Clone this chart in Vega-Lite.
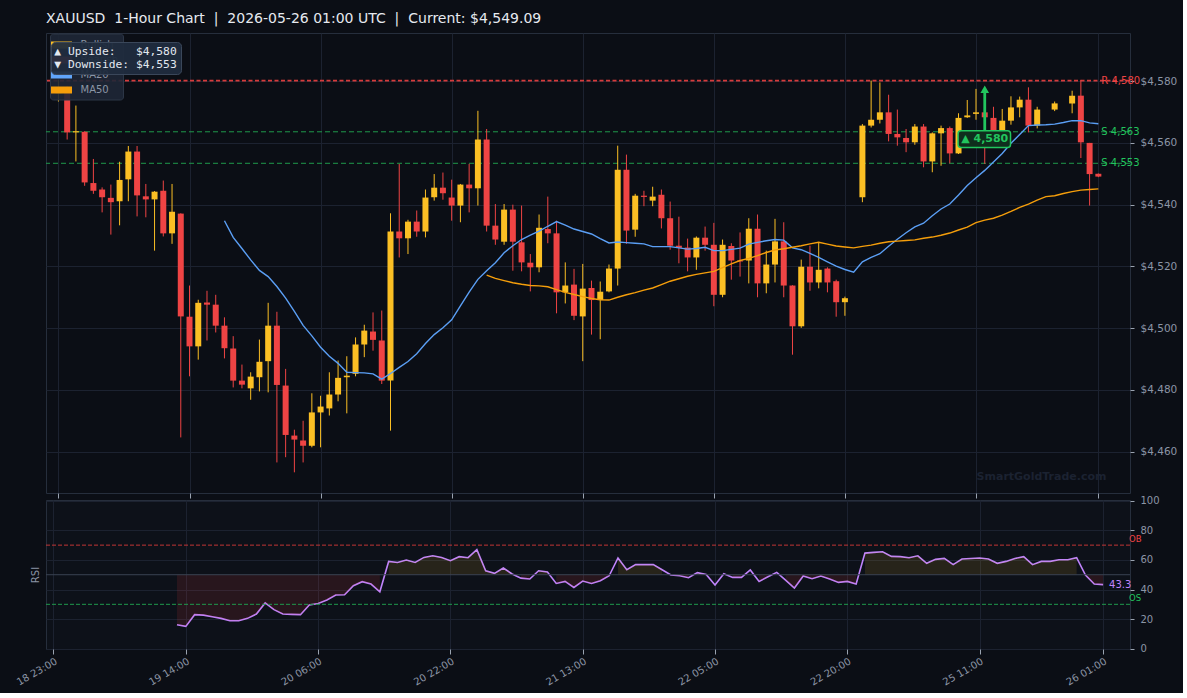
{
  "$schema": "https://vega.github.io/schema/vega-lite/v6.json",
  "background": "#0b0e15",
  "padding": {"left": 14, "top": 11, "right": 5, "bottom": 5},
  "title": {"text": "XAUUSD\u00a0 1-Hour Chart\u00a0 |\u00a0 2026-05-26 01:00 UTC\u00a0 |\u00a0 Current: $4,549.09", "anchor": "start", "frame": "group", "color": "#e6e9ef", "fontSize": 14, "font": "DejaVu Sans", "fontWeight": "normal", "offset": 7},
  "config": {
    "view": {"fill": "#0d1119", "stroke": "#262e3c"},
    "font": "DejaVu Sans",
    "axis": {"domain": false, "grid": true, "gridColor": "#1c2230", "gridWidth": 1, "tickColor": "#9aa3b0", "labelColor": "#8b95a5", "labelFont": "DejaVu Sans", "titleColor": "#8b95a5", "titleFont": "DejaVu Sans", "titleFontWeight": "normal", "labelOverlap": false}
  },
  "spacing": 7,
  "bounds": "flush",
  "datasets": {
    "bars": [
      {"i":0,"o":4576.0,"h":4580.5,"l":4573.4,"c":4577.5},
      {"i":1,"o":4576.5,"h":4578.5,"l":4561.1,"c":4563.4},
      {"i":2,"o":4563.4,"h":4572.1,"l":4554.0,"c":4563.8},
      {"i":3,"o":4563.6,"h":4563.8,"l":4546.1,"c":4547.2},
      {"i":4,"o":4547.0,"h":4554.8,"l":4543.5,"c":4544.5},
      {"i":5,"o":4544.9,"h":4545.6,"l":4537.5,"c":4542.4},
      {"i":6,"o":4542.2,"h":4546.5,"l":4530.3,"c":4540.8},
      {"i":7,"o":4541.1,"h":4553.9,"l":4533.3,"c":4548.0},
      {"i":8,"o":4548.2,"h":4559.0,"l":4541.1,"c":4557.2},
      {"i":9,"o":4557.2,"h":4559.0,"l":4536.2,"c":4543.0},
      {"i":10,"o":4542.7,"h":4546.7,"l":4535.9,"c":4541.7},
      {"i":11,"o":4541.7,"h":4544.4,"l":4525.1,"c":4544.2},
      {"i":12,"o":4544.5,"h":4547.8,"l":4529.7,"c":4530.7},
      {"i":13,"o":4530.7,"h":4546.7,"l":4527.3,"c":4537.7},
      {"i":14,"o":4537.1,"h":4537.2,"l":4464.6,"c":4503.8,"rsi":16.2},
      {"i":15,"o":4503.7,"h":4513.8,"l":4484.4,"c":4494.1,"rsi":15.1},
      {"i":16,"o":4494.1,"h":4509.2,"l":4489.8,"c":4508.2,"rsi":23.0},
      {"i":17,"o":4508.3,"h":4512.1,"l":4496.0,"c":4507.6,"rsi":22.7},
      {"i":18,"o":4507.6,"h":4510.8,"l":4498.6,"c":4500.8,"rsi":21.6},
      {"i":19,"o":4500.8,"h":4503.5,"l":4490.2,"c":4493.5,"ma20":4534.8,"rsi":20.5},
      {"i":20,"o":4493.4,"h":4497.4,"l":4480.8,"c":4483.0,"ma20":4529.4,"rsi":18.9},
      {"i":21,"o":4483.0,"h":4488.2,"l":4480.5,"c":4481.7,"ma20":4525.8,"rsi":18.9},
      {"i":22,"o":4480.5,"h":4485.7,"l":4476.8,"c":4484.3,"ma20":4522.1,"rsi":20.5},
      {"i":23,"o":4484.1,"h":4496.3,"l":4479.5,"c":4489.1,"ma20":4518.7,"rsi":23.4},
      {"i":24,"o":4489.3,"h":4508.2,"l":4479.2,"c":4500.8,"ma20":4516.7,"rsi":30.9},
      {"i":25,"o":4500.8,"h":4505.3,"l":4456.5,"c":4481.6,"ma20":4513.5,"rsi":26.4},
      {"i":26,"o":4481.4,"h":4486.8,"l":4458.2,"c":4465.4,"ma20":4509.7,"rsi":23.4},
      {"i":27,"o":4465.2,"h":4467.1,"l":4453.3,"c":4463.9,"ma20":4505.4,"rsi":23.2},
      {"i":28,"o":4463.6,"h":4470.0,"l":4456.5,"c":4461.9,"ma20":4500.9,"rsi":23.0},
      {"i":29,"o":4461.9,"h":4478.9,"l":4461.4,"c":4472.7,"ma20":4497.5,"rsi":29.5},
      {"i":30,"o":4472.7,"h":4478.1,"l":4461.4,"c":4474.6,"ma20":4493.8,"rsi":30.6},
      {"i":31,"o":4474.0,"h":4485.7,"l":4471.7,"c":4478.5,"ma20":4490.9,"rsi":32.9},
      {"i":32,"o":4478.5,"h":4489.5,"l":4476.3,"c":4483.9,"ma20":4488.6,"rsi":36.3},
      {"i":33,"o":4484.1,"h":4490.9,"l":4472.4,"c":4484.6,"ma20":4485.7,"rsi":36.5},
      {"i":34,"o":4485.2,"h":4497.0,"l":4484.4,"c":4494.7,"ma20":4485.6,"rsi":42.6},
      {"i":35,"o":4494.7,"h":4501.1,"l":4490.6,"c":4499.2,"ma20":4485.5,"rsi":45.3},
      {"i":36,"o":4498.9,"h":4505.1,"l":4492.7,"c":4496.2,"ma20":4485.2,"rsi":43.7},
      {"i":37,"o":4496.0,"h":4505.7,"l":4481.9,"c":4483.0,"ma20":4483.5,"rsi":38.5},
      {"i":38,"o":4483.0,"h":4537.2,"l":4466.8,"c":4531.3,"ma20":4485.3,"rsi":59.0},
      {"i":39,"o":4531.3,"h":4553.2,"l":4522.9,"c":4529.1,"ma20":4487.3,"rsi":58.3},
      {"i":40,"o":4529.1,"h":4535.1,"l":4524.0,"c":4534.5,"ma20":4489.2,"rsi":59.9},
      {"i":41,"o":4534.5,"h":4538.1,"l":4529.6,"c":4531.3,"ma20":4491.7,"rsi":58.3},
      {"i":42,"o":4531.3,"h":4544.9,"l":4529.4,"c":4542.3,"ma20":4495.0,"rsi":61.7},
      {"i":43,"o":4542.4,"h":4549.9,"l":4541.3,"c":4545.5,"ma20":4497.9,"rsi":62.8},
      {"i":44,"o":4545.5,"h":4550.4,"l":4541.6,"c":4543.7,"ma20":4500.1,"rsi":61.7},
      {"i":45,"o":4542.3,"h":4548.1,"l":4534.8,"c":4539.7,"ma20":4502.7,"rsi":59.5},
      {"i":46,"o":4539.7,"h":4546.7,"l":4534.3,"c":4546.5,"ma20":4507.2,"rsi":62.2},
      {"i":47,"o":4546.5,"h":4553.2,"l":4537.5,"c":4545.3,"ma20":4511.7,"rsi":61.5},
      {"i":48,"o":4545.3,"h":4570.4,"l":4539.7,"c":4561.1,"ma20":4515.8,"rsi":66.9},
      {"i":49,"o":4561.1,"h":4564.5,"l":4531.3,"c":4533.2,"ma20":4518.6,"ma50":4517.2,"rsi":52.7},
      {"i":50,"o":4533.2,"h":4540.2,"l":4527.0,"c":4528.7,"ma20":4521.2,"ma50":4516.1,"rsi":50.9},
      {"i":51,"o":4528.0,"h":4540.2,"l":4527.0,"c":4538.4,"ma20":4524.4,"ma50":4515.4,"rsi":54.5},
      {"i":52,"o":4538.4,"h":4540.0,"l":4518.6,"c":4528.0,"ma20":4526.7,"ma50":4514.7,"rsi":50.5},
      {"i":53,"o":4527.8,"h":4539.7,"l":4518.4,"c":4521.3,"ma20":4528.7,"ma50":4514.2,"rsi":47.7},
      {"i":54,"o":4521.2,"h":4524.0,"l":4511.9,"c":4519.7,"ma20":4530.1,"ma50":4513.8,"rsi":47.1},
      {"i":55,"o":4519.7,"h":4536.8,"l":4518.1,"c":4532.5,"ma20":4531.4,"ma50":4513.7,"rsi":52.7},
      {"i":56,"o":4532.1,"h":4542.6,"l":4527.5,"c":4530.7,"ma20":4533.0,"ma50":4513.4,"rsi":51.8},
      {"i":57,"o":4530.7,"h":4534.8,"l":4504.8,"c":4511.6,"ma20":4534.5,"ma50":4512.5,"rsi":44.1},
      {"i":58,"o":4511.6,"h":4521.3,"l":4508.0,"c":4513.8,"ma20":4533.4,"ma50":4511.6,"rsi":45.5},
      {"i":59,"o":4514.1,"h":4519.2,"l":4502.6,"c":4504.0,"ma20":4532.1,"ma50":4510.9,"rsi":41.4},
      {"i":60,"o":4503.8,"h":4520.8,"l":4489.3,"c":4512.8,"ma20":4531.3,"ma50":4510.2,"rsi":45.7},
      {"i":61,"o":4513.0,"h":4515.4,"l":4497.9,"c":4509.1,"ma20":4530.5,"ma50":4509.6,"rsi":44.1},
      {"i":62,"o":4509.1,"h":4515.1,"l":4496.4,"c":4511.8,"ma20":4529.0,"ma50":4509.2,"rsi":45.9},
      {"i":63,"o":4511.9,"h":4520.6,"l":4511.6,"c":4519.3,"ma20":4527.6,"ma50":4509.1,"rsi":49.3},
      {"i":64,"o":4519.3,"h":4559.1,"l":4513.8,"c":4551.3,"ma20":4527.9,"ma50":4510.0,"rsi":61.3},
      {"i":65,"o":4551.3,"h":4556.2,"l":4527.3,"c":4531.6,"ma20":4527.7,"ma50":4510.8,"rsi":53.4},
      {"i":66,"o":4531.9,"h":4543.5,"l":4529.6,"c":4542.9,"ma20":4527.5,"ma50":4511.5,"rsi":56.8},
      {"i":67,"o":4542.9,"h":4544.5,"l":4539.5,"c":4542.5,"ma20":4527.3,"ma50":4512.3,"rsi":56.8},
      {"i":68,"o":4541.3,"h":4545.8,"l":4539.5,"c":4542.6,"ma20":4526.4,"ma50":4513.0,"rsi":56.8},
      {"i":69,"o":4543.2,"h":4544.9,"l":4532.3,"c":4535.6,"ma20":4526.4,"ma50":4514.1,"rsi":53.4},
      {"i":70,"o":4535.6,"h":4541.0,"l":4525.4,"c":4526.7,"ma20":4526.4,"ma50":4515.2,"rsi":49.8},
      {"i":71,"o":4526.7,"h":4536.1,"l":4521.0,"c":4526.0,"ma20":4526.0,"ma50":4516.0,"rsi":49.3},
      {"i":72,"o":4526.1,"h":4529.0,"l":4518.4,"c":4522.9,"ma20":4525.6,"ma50":4516.8,"rsi":48.0},
      {"i":73,"o":4522.9,"h":4529.7,"l":4518.9,"c":4529.3,"ma20":4525.8,"ma50":4517.4,"rsi":51.4},
      {"i":74,"o":4529.3,"h":4532.9,"l":4525.1,"c":4527.0,"ma20":4526.2,"ma50":4517.9,"rsi":50.2},
      {"i":75,"o":4527.0,"h":4534.1,"l":4507.1,"c":4510.8,"ma20":4525.1,"ma50":4518.4,"rsi":43.0},
      {"i":76,"o":4510.8,"h":4528.7,"l":4510.0,"c":4527.0,"ma20":4525.1,"ma50":4519.6,"rsi":50.7},
      {"i":77,"o":4526.6,"h":4527.5,"l":4515.7,"c":4521.9,"ma20":4525.5,"ma50":4520.8,"rsi":48.2},
      {"i":78,"o":4521.9,"h":4531.0,"l":4516.7,"c":4521.6,"ma20":4525.9,"ma50":4521.9,"rsi":48.2},
      {"i":79,"o":4521.9,"h":4535.6,"l":4514.5,"c":4532.2,"ma20":4527.2,"ma50":4522.6,"rsi":53.2},
      {"i":80,"o":4532.2,"h":4536.8,"l":4510.0,"c":4514.5,"ma20":4527.8,"ma50":4523.5,"rsi":45.5},
      {"i":81,"o":4514.5,"h":4525.1,"l":4511.3,"c":4520.6,"ma20":4528.3,"ma50":4524.5,"rsi":48.6},
      {"i":82,"o":4520.6,"h":4535.4,"l":4514.8,"c":4528.1,"ma20":4528.7,"ma50":4525.3,"rsi":51.6},
      {"i":83,"o":4528.1,"h":4534.3,"l":4510.0,"c":4513.8,"ma20":4528.5,"ma50":4525.7,"rsi":46.4},
      {"i":84,"o":4513.8,"h":4513.9,"l":4491.4,"c":4500.6,"ma20":4526.0,"ma50":4526.2,"rsi":41.0},
      {"i":85,"o":4500.6,"h":4522.2,"l":4500.1,"c":4519.9,"ma20":4525.4,"ma50":4526.7,"rsi":49.1},
      {"i":86,"o":4519.9,"h":4526.7,"l":4512.1,"c":4514.8,"ma20":4524.2,"ma50":4527.3,"rsi":47.3},
      {"i":87,"o":4514.8,"h":4527.8,"l":4512.9,"c":4518.9,"ma20":4522.9,"ma50":4527.8,"rsi":49.1},
      {"i":88,"o":4519.3,"h":4519.7,"l":4511.6,"c":4514.8,"ma20":4521.5,"ma50":4527.2,"rsi":47.1},
      {"i":89,"o":4515.2,"h":4515.7,"l":4503.7,"c":4508.4,"ma20":4520.1,"ma50":4526.6,"rsi":44.8},
      {"i":90,"o":4508.4,"h":4510.2,"l":4504.0,"c":4509.7,"ma20":4519.0,"ma50":4526.3,"rsi":45.5},
      {"i":91,"ma20":4518.1,"ma50":4526.0,"rsi":43.7},
      {"i":92,"o":4542.4,"h":4566.1,"l":4540.8,"c":4565.6,"ma20":4521.5,"ma50":4526.5,"rsi":64.6},
      {"i":93,"o":4565.6,"h":4580.2,"l":4565.0,"c":4567.5,"ma20":4522.9,"ma50":4526.9,"rsi":65.1},
      {"i":94,"o":4567.5,"h":4579.6,"l":4566.3,"c":4569.9,"ma20":4524.1,"ma50":4527.5,"rsi":65.5},
      {"i":95,"o":4569.9,"h":4575.6,"l":4560.5,"c":4562.9,"ma20":4526.5,"ma50":4528.0,"rsi":62.4},
      {"i":96,"o":4562.9,"h":4570.8,"l":4559.1,"c":4561.8,"ma20":4528.8,"ma50":4528.2,"rsi":62.2},
      {"i":97,"o":4561.6,"h":4564.5,"l":4557.0,"c":4560.2,"ma20":4530.9,"ma50":4528.4,"rsi":61.5},
      {"i":98,"o":4560.2,"h":4566.1,"l":4559.4,"c":4565.3,"ma20":4532.8,"ma50":4528.6,"rsi":62.8},
      {"i":99,"o":4565.3,"h":4566.1,"l":4552.1,"c":4554.0,"ma20":4534.0,"ma50":4529.1,"rsi":57.7},
      {"i":100,"o":4554.0,"h":4563.4,"l":4550.5,"c":4563.1,"ma20":4536.4,"ma50":4529.5,"rsi":60.4},
      {"i":101,"o":4563.1,"h":4565.6,"l":4552.6,"c":4564.8,"ma20":4538.6,"ma50":4530.1,"rsi":61.0},
      {"i":102,"o":4564.8,"h":4565.3,"l":4553.4,"c":4556.6,"ma20":4540.2,"ma50":4530.8,"rsi":56.8},
      {"i":103,"o":4556.6,"h":4569.6,"l":4556.4,"c":4568.1,"ma20":4543.1,"ma50":4531.8,"rsi":60.6},
      {"i":104,"o":4568.3,"h":4573.9,"l":4568.1,"c":4568.9,"ma20":4546.2,"ma50":4532.7,"rsi":61.0},
      {"i":105,"o":4569.4,"h":4577.5,"l":4567.5,"c":4569.9,"ma20":4548.7,"ma50":4534.2,"rsi":61.3},
      {"i":106,"o":4569.9,"h":4570.5,"l":4553.2,"c":4568.3,"ma20":4551.1,"ma50":4535.0,"rsi":60.6},
      {"i":107,"o":4568.1,"h":4571.7,"l":4563.1,"c":4563.8,"ma20":4553.8,"ma50":4535.6,"rsi":57.7},
      {"i":108,"o":4563.8,"h":4571.0,"l":4562.9,"c":4567.2,"ma20":4556.6,"ma50":4536.6,"rsi":59.0},
      {"i":109,"o":4567.2,"h":4575.1,"l":4565.9,"c":4571.5,"ma20":4559.9,"ma50":4537.8,"rsi":61.0},
      {"i":110,"o":4571.5,"h":4575.0,"l":4568.3,"c":4574.0,"ma20":4562.7,"ma50":4539.1,"rsi":62.2},
      {"i":111,"o":4574.0,"h":4578.0,"l":4563.4,"c":4565.6,"ma20":4565.6,"ma50":4540.2,"rsi":56.8},
      {"i":112,"o":4565.6,"h":4571.7,"l":4564.7,"c":4570.8,"ma20":4565.8,"ma50":4541.5,"rsi":59.0},
      {"i":113,"ma20":4565.9,"ma50":4542.6,"rsi":59.0},
      {"i":114,"o":4570.8,"h":4573.4,"l":4570.3,"c":4572.8,"ma20":4566.1,"ma50":4542.9,"rsi":60.1},
      {"i":115,"ma20":4566.6,"ma50":4543.6,"rsi":60.1},
      {"i":116,"o":4572.8,"h":4576.9,"l":4569.6,"c":4575.3,"ma20":4567.2,"ma50":4544.2,"rsi":61.5},
      {"i":117,"o":4575.3,"h":4580.4,"l":4555.1,"c":4560.2,"ma20":4567.2,"ma50":4544.7,"rsi":49.8},
      {"i":118,"o":4560.0,"h":4560.0,"l":4539.7,"c":4549.9,"ma20":4566.5,"ma50":4544.9,"rsi":43.7},
      {"i":119,"o":4550.0,"h":4550.1,"l":4548.9,"c":4549.09,"ma20":4566.2,"ma50":4545.1,"rsi":43.3}
    ]
  },
  "vconcat": [
    {
      "width": 1084,
      "height": 460,
      "data": {"name": "bars"},
      "layer": [
        {
          "data": {"values": [
            {"price": 4580.2, "lab": "R 4,580", "kind": "R"},
            {"price": 4563.6, "lab": "S 4,563", "kind": "S"},
            {"price": 4553.4, "lab": "S 4,553", "kind": "S"}
          ]},
          "mark": {"type": "rule"},
          "encoding": {
            "y": {"field": "price", "type": "quantitative", "title": null,
                  "scale": {"domain": [4446.6, 4595.6], "nice": false, "zero": false},
                  "axis": {"orient": "right", "values": [4460, 4480, 4500, 4520, 4540, 4560, 4580], "format": "$,.0f", "labelFontSize": 10.5, "tickSize": 4, "labelPadding": 6, "labelOverlap": false, "title": null}},
            "color": {"condition": {"test": "datum.kind == 'R'", "value": "#d63b3b"}, "value": "#1f9a4c"},
            "strokeWidth": {"condition": {"test": "datum.kind == 'R'", "value": 1.7}, "value": 1},
            "strokeDash": {"condition": {"test": "datum.kind == 'R'", "value": [4, 2.5]}, "value": [5, 3]}
          }
        },
        {
          "mark": {"type": "rule", "strokeWidth": 1},
          "encoding": {
            "x": {"field": "i", "type": "quantitative", "title": null,
                  "scale": {"domain": [-0.85, 122.05], "nice": false, "zero": false},
                  "axis": {"orient": "bottom", "values": [0, 15, 30, 45, 60, 75, 90, 105, 119], "labels": false, "tickSize": 5, "title": null}},
            "y": {"field": "l", "type": "quantitative", "title": null},
            "y2": {"field": "h"},
            "color": {"condition": {"test": "datum.c >= datum.o", "value": "#fbbf24"}, "value": "#ef4444"}
          }
        },
        {
          "mark": {"type": "bar", "size": 6},
          "encoding": {
            "x": {"field": "i", "type": "quantitative", "title": null},
            "y": {"field": "o", "type": "quantitative", "title": null},
            "y2": {"field": "c"},
            "color": {"condition": {"test": "datum.c >= datum.o", "value": "#fbbf24"}, "value": "#ef4444"}
          }
        },
        {
          "mark": {"type": "line", "color": "#5b9ff5", "strokeWidth": 1.4},
          "encoding": {
            "x": {"field": "i", "type": "quantitative", "title": null},
            "y": {"field": "ma20", "type": "quantitative", "title": null}
          }
        },
        {
          "mark": {"type": "line", "color": "#f59e0b", "strokeWidth": 1.4},
          "encoding": {
            "x": {"field": "i", "type": "quantitative", "title": null},
            "y": {"field": "ma50", "type": "quantitative", "title": null}
          }
        },
        {
          "data": {"values": [
            {"price": 4580.2, "lab": "R 4,580", "kind": "R"},
            {"price": 4563.6, "lab": "S 4,563", "kind": "S"},
            {"price": 4553.4, "lab": "S 4,553", "kind": "S"}
          ]},
          "mark": {"type": "text", "align": "left", "baseline": "middle", "dx": 3, "fontSize": 10},
          "encoding": {
            "x": {"datum": 119, "type": "quantitative"},
            "y": {"field": "price", "type": "quantitative", "title": null},
            "text": {"field": "lab"},
            "color": {"condition": {"test": "datum.kind == 'R'", "value": "#ef4444"}, "value": "#22c55e"}
          }
        },
        {
          "data": {"values": [{}]},
          "mark": {"type": "rule", "color": "#22c55e", "strokeWidth": 2.8},
          "encoding": {
            "x": {"datum": 106, "type": "quantitative"},
            "y": {"datum": 4563.9, "type": "quantitative"},
            "y2": {"datum": 4577.0}
          }
        },
        {
          "data": {"values": [{}]},
          "mark": {"type": "point", "shape": "triangle-up", "filled": true, "size": 75, "color": "#22c55e", "opacity": 1},
          "encoding": {
            "x": {"datum": 106, "type": "quantitative"},
            "y": {"datum": 4577.4, "type": "quantitative"}
          }
        },
        {
          "data": {"values": [{}]},
          "mark": {"type": "rect", "fill": "#0f2e1d", "stroke": "#22c55e", "strokeWidth": 1.5, "cornerRadius": 3},
          "encoding": {
            "x": {"datum": 102.95, "type": "quantitative"},
            "x2": {"datum": 108.95},
            "y": {"datum": 4558.5, "type": "quantitative"},
            "y2": {"datum": 4563.9}
          }
        },
        {
          "data": {"values": [{"t": "▲ 4,580"}]},
          "mark": {"type": "text", "align": "center", "baseline": "middle", "fontSize": 11, "fontWeight": "bold", "color": "#22c55e"},
          "encoding": {
            "x": {"datum": 106, "type": "quantitative"},
            "y": {"datum": 4561.2, "type": "quantitative"},
            "text": {"field": "t"}
          }
        },
        {
          "data": {"values": [{"t": "SmartGoldTrade.com"}]},
          "mark": {"type": "text", "align": "center", "baseline": "middle", "fontSize": 11, "fontWeight": "bold", "color": "#1b2231"},
          "encoding": {
            "x": {"datum": 112.5, "type": "quantitative"},
            "y": {"datum": 4451.9, "type": "quantitative"},
            "text": {"field": "t"}
          }
        },
        {
          "data": {"values": [{"k": "Bullish"}, {"k": "Bearish"}, {"k": "MA20"}, {"k": "MA50"}]},
          "mark": {"type": "point", "filled": true, "opacity": 0},
          "encoding": {
            "fill": {"field": "k", "type": "nominal",
                     "scale": {"domain": ["Bullish", "Bearish", "MA20", "MA50"], "range": ["#fbbf24", "#ef4444", "#60a5fa", "#f59e0b"]},
                     "legend": {"title": null, "orient": "none", "legendX": 4, "legendY": 0.5, "symbolType": "M-1.4,-0.4667H1.4V0.4667H-1.4Z", "symbolSize": 225, "symbolOpacity": 1, "symbolStrokeWidth": 0, "labelFontSize": 10, "labelColor": "#8b95a5", "labelOffset": 11.5, "rowPadding": 2, "padding": 4, "fillColor": "rgba(30,39,54,0.9)", "strokeColor": "#2c3646", "cornerRadius": 3, "zindex": 2}}
          }
        },
        {
          "data": {"values": [{"t": "▲ Upside:\u00a0\u00a0\u00a0$4,580"}, {"t": "▼ Downside: $4,553"}]},
          "mark": {"type": "point", "opacity": 0},
          "encoding": {
            "shape": {"field": "t", "type": "nominal",
                      "scale": {"domain": ["▲ Upside:\u00a0\u00a0\u00a0$4,580", "▼ Downside: $4,553"]},
                      "legend": {"title": null, "orient": "none", "legendX": 5, "legendY": 9, "symbolSize": 0, "symbolOpacity": 0, "symbolStrokeWidth": 0, "labelFont": "DejaVu Sans Mono", "labelFontSize": 11.3, "labelColor": "#e2e8f0", "labelOffset": -12, "labelLimit": 400, "rowPadding": 1, "padding": 4, "fillColor": "rgba(32,44,62,0.95)", "strokeColor": "#3a475a", "cornerRadius": 4, "zindex": 3}}
          }
        }
      ]
    },
    {
      "width": 1084,
      "height": 149,
      "data": {"name": "bars"},
      "resolve": {"scale": {"y": "independent"}, "axis": {"y": "independent"}},
      "layer": [
        {
          "layer": [
            {
              "mark": {"type": "line", "color": "#c084fc", "strokeWidth": 1.6},
              "encoding": {
                "x": {"field": "i", "type": "quantitative", "title": null,
                      "scale": {"domain": [-0.85, 122.05], "nice": false, "zero": false},
                      "axis": {"orient": "bottom", "values": [0, 15, 30, 45, 60, 75, 90, 105, 119], "labelExpr": "datum.value == 0 ? '18 23:00' : datum.value == 15 ? '19 14:00' : datum.value == 30 ? '20 06:00' : datum.value == 45 ? '20 22:00' : datum.value == 60 ? '21 13:00' : datum.value == 75 ? '22 05:00' : datum.value == 90 ? '22 20:00' : datum.value == 105 ? '25 11:00' : '26 01:00'", "labelAngle": -30, "labelAlign": "right", "labelBaseline": "top", "labelFontSize": 10, "labelFlush": false, "labelOverlap": false, "labelPadding": 2, "tickSize": 5, "title": null}},
                "y": {"field": "rsi", "type": "quantitative", "title": null,
                      "scale": {"domain": [-0.2, 100.5], "nice": false, "zero": false},
                      "axis": {"orient": "right", "values": [0, 20, 40, 60, 80, 100], "tickCount": 6, "labelFontSize": 10, "tickSize": 4, "labelPadding": 6, "labelOverlap": false, "labelFlush": false, "labelBound": false, "title": null}}
              }
            },
            {
              "transform": [{"calculate": "isValid(datum.rsi) && datum.rsi < 50 ? datum.rsi : null", "as": "dn"}],
              "mark": {"type": "area", "color": "#ef4444", "opacity": 0.12, "invalid": "break-paths-show-domains"},
              "encoding": {
                "x": {"field": "i", "type": "quantitative", "title": null},
                "y": {"field": "dn", "type": "quantitative", "title": null,
                      "axis": {"orient": "right", "values": [0, 20, 40, 60, 80, 100], "tickCount": 6, "labelFontSize": 10, "tickSize": 4, "labelPadding": 6, "labelOverlap": false, "labelFlush": false, "labelBound": false, "title": null}},
                "y2": {"datum": 50}
              }
            },
            {
              "transform": [{"calculate": "isValid(datum.rsi) && datum.rsi >= 50 ? datum.rsi : null", "as": "up"}],
              "mark": {"type": "area", "color": "#fbbf24", "opacity": 0.11, "invalid": "break-paths-show-domains"},
              "encoding": {
                "x": {"field": "i", "type": "quantitative", "title": null},
                "y": {"field": "up", "type": "quantitative", "title": null,
                      "axis": {"orient": "right", "values": [0, 20, 40, 60, 80, 100], "tickCount": 6, "labelFontSize": 10, "tickSize": 4, "labelPadding": 6, "labelOverlap": false, "labelFlush": false, "labelBound": false, "title": null}},
                "y2": {"datum": 50}
              }
            },
            {
              "data": {"values": [{"lvl": 50, "k": "M"}, {"lvl": 70, "k": "OB"}, {"lvl": 30, "k": "OS"}]},
              "mark": {"type": "rule", "strokeWidth": 1},
              "encoding": {
                "y": {"field": "lvl", "type": "quantitative", "title": null,
                      "axis": {"orient": "right", "values": [0, 20, 40, 60, 80, 100], "tickCount": 6, "labelFontSize": 10, "tickSize": 4, "labelPadding": 6, "labelOverlap": false, "labelFlush": false, "labelBound": false, "title": null}},
                "color": {"condition": [{"test": "datum.k == 'OB'", "value": "#c23636"}, {"test": "datum.k == 'OS'", "value": "#1f9a4c"}], "value": "#3a4352"},
                "strokeDash": {"condition": {"test": "datum.k == 'M'", "value": [1, 0]}, "value": [4, 2]}
              }
            },
            {
              "transform": [{"filter": "datum.i == 119"}],
              "mark": {"type": "text", "align": "left", "baseline": "middle", "dx": 6, "fontSize": 10, "color": "#c084fc"},
              "encoding": {
                "x": {"field": "i", "type": "quantitative", "title": null},
                "y": {"field": "rsi", "type": "quantitative", "title": null,
                      "axis": {"orient": "right", "values": [0, 20, 40, 60, 80, 100], "tickCount": 6, "labelFontSize": 10, "tickSize": 4, "labelPadding": 6, "labelOverlap": false, "labelFlush": false, "labelBound": false, "title": null}},
                "text": {"field": "rsi", "type": "quantitative", "format": ".1f"}
              }
            },
            {
              "data": {"values": [{"lvl": 70, "t": "OB"}, {"lvl": 30, "t": "OS"}]},
              "mark": {"type": "text", "align": "left", "baseline": "middle", "dx": -1, "dy": -6, "fontSize": 8.5},
              "encoding": {
                "x": {"datum": 122.05, "type": "quantitative"},
                "y": {"field": "lvl", "type": "quantitative", "title": null,
                      "axis": {"orient": "right", "values": [0, 20, 40, 60, 80, 100], "tickCount": 6, "labelFontSize": 10, "tickSize": 4, "labelPadding": 6, "labelOverlap": false, "labelFlush": false, "labelBound": false, "title": null}},
                "text": {"field": "t"},
                "color": {"condition": {"test": "datum.t == 'OB'", "value": "#ef4444"}, "value": "#22c55e"}
              }
            }
          ]
        },
        {
          "data": {"values": [{}]},
          "mark": {"type": "rule", "strokeOpacity": 0},
          "encoding": {
            "y": {"datum": 50, "type": "quantitative",
                  "scale": {"domain": [-0.2, 100.5], "nice": false, "zero": false},
                  "axis": {"orient": "left", "labels": false, "ticks": false, "grid": false, "domain": false, "title": "RSI", "titleFontSize": 10, "titlePadding": 6}}
          }
        }
      ]
    }
  ]
}
